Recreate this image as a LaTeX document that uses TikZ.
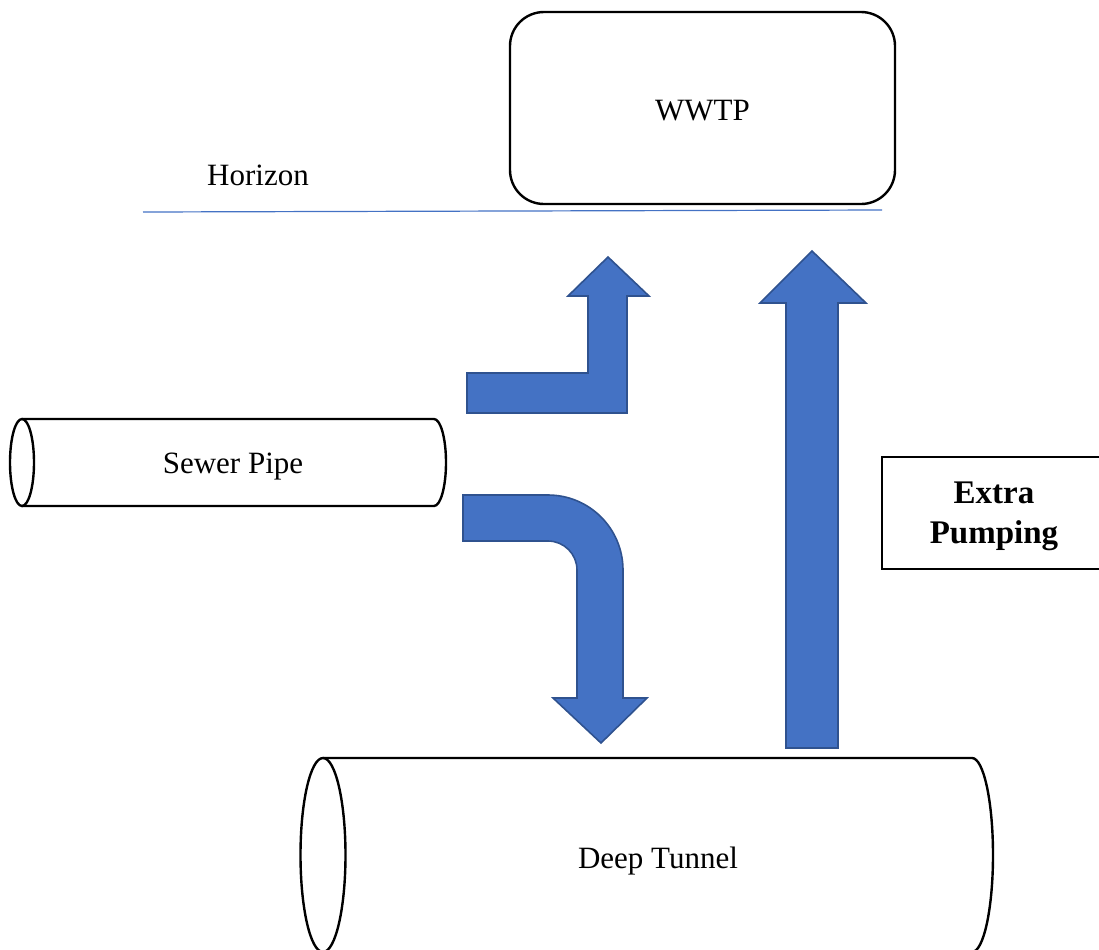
\documentclass[tikz,border=0pt]{standalone}
\usepackage{fontspec}
\setmainfont{Liberation Serif}
\usetikzlibrary{positioning}
\definecolor{flowblue}{HTML}{4472C4}
\definecolor{flowedge}{HTML}{2F528F}

\begin{document}
\begin{tikzpicture}[x=0.5pt,y=-0.5pt,
    label/.style={font={\fontsize{15.5}{18}\selectfont}},
    pipe/.style={line width=1.2pt,black},
    flow/.style={fill=flowblue,draw=flowedge,line width=0.8pt,line join=miter}]

\useasboundingbox (0,0) rectangle (1099,949);

% plant and horizon
\node[draw,line width=1.2pt,rounded corners=17pt,minimum width=192.5pt,
      minimum height=96pt,label] (wwtp) at (702.5,108) {};
\node[label] (wwtptext) at (702.5,111) {WWTP};
\draw[flowblue,line width=0.6pt] (143,212) coordinate (hzl) -- (882,210) coordinate (hzr);
\node[label] (horizon) at (258,175) {Horizon};

% sewer pipe
\draw[pipe] (22,419) -- (434,419) arc(-90:90:12 and 43.5) -- (22,506);
\draw[pipe] (22,462.5) ellipse (12 and 43.5);
\node[label] (sewer) at (233,467) {Sewer Pipe};

% deep tunnel
\draw[pipe] (323,758) -- (972,758) arc(-90:90:21 and 97) -- (323,952);
\draw[pipe] (323,855) ellipse (22.5 and 97);
\node[label] (tunnel) at (658,861) {Deep Tunnel};

% flows
\draw[flow] (467,373) -- (588,373) -- (588,296) -- (568,296) -- (608,257)
    -- (649,296) -- (627,296) -- (627,413) -- (467,413) -- cycle;
\draw[flow] (463,495) -- (548,495) arc(-90:0:75) -- (623,698) -- (647,698)
    -- (601,743) -- (553,698) -- (577,698) -- (577,570) arc(0:-90:29)
    -- (463,541) -- cycle;
\draw[flow] (786,748) -- (786,303) -- (760,303) -- (812,251) -- (866,303)
    -- (838,303) -- (838,748) -- cycle;

\node[draw,line width=0.9pt,minimum width=114pt,minimum height=56pt] (pump) at (996,513) {};
\node[align=center,font={\bfseries\fontsize{16.5}{20}\selectfont}] (pumptext)
    at (994,516) {Extra\\Pumping};

\end{tikzpicture}
\end{document}
